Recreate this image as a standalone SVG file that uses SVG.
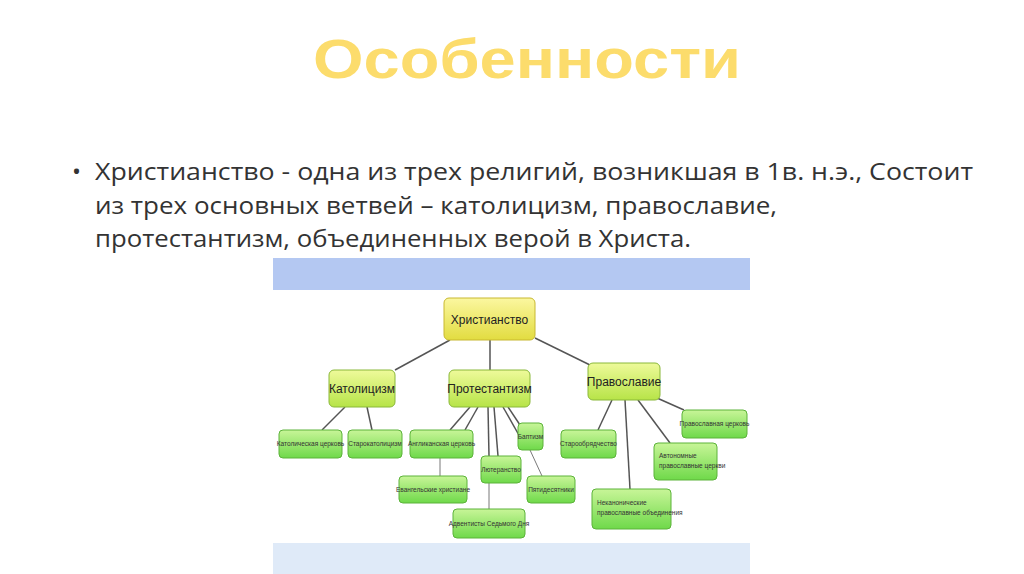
<svg xmlns="http://www.w3.org/2000/svg" width="1024" height="574" viewBox="0 0 1024 574">
<defs>
<linearGradient id="g" x1="0" y1="0" x2="0" y2="1"><stop offset="0" stop-color="#c8f598"/><stop offset="1" stop-color="#6fd94a"/></linearGradient>
<linearGradient id="g2" x1="0" y1="0" x2="0" y2="1"><stop offset="0" stop-color="#eefa9a"/><stop offset="1" stop-color="#b7e448"/></linearGradient>
<linearGradient id="y" x1="0" y1="0" x2="0" y2="1"><stop offset="0" stop-color="#fbf7a0"/><stop offset="1" stop-color="#e2dc40"/></linearGradient>
</defs>
<style>
.n{fill:url(#g);stroke:#5cb33a;stroke-width:1}
.m{fill:url(#g2);stroke:#8ab83a;stroke-width:1}
.s{font-family:"Liberation Sans",Arial,sans-serif;font-size:6.5px;fill:#333;text-anchor:middle}
.b{font-family:"Liberation Sans",Arial,sans-serif;font-size:12px;fill:#222;text-anchor:middle}
.c line{stroke:#555;stroke-width:1.5}
</style>
<rect width="1024" height="574" fill="#fff"/>
<text x="313" y="78" textLength="428" lengthAdjust="spacingAndGlyphs" font-family="Liberation Sans,Arial,sans-serif" font-weight="bold" font-size="56" fill="#fcdc6c">Особенности</text>
<g font-family="Open Sans,Liberation Sans,sans-serif" font-size="24" fill="#333" lengthAdjust="spacingAndGlyphs">
<text x="72" y="180">•</text>
<text x="95" y="180" textLength="878" lengthAdjust="spacingAndGlyphs">Христианство - одна из трех религий, возникшая в 1в. н.э., Состоит</text>
<text x="95" y="214" textLength="682" lengthAdjust="spacingAndGlyphs">из трех основных ветвей – католицизм,  православие,</text>
<text x="95" y="247" textLength="596" lengthAdjust="spacingAndGlyphs">протестантизм, объединенных верой в Христа.</text>
</g>
<rect x="273" y="258" width="477" height="316" fill="#fff"/>
<rect x="273" y="258" width="477" height="32" fill="#b4c8f2"/>
<rect x="273" y="543" width="477" height="31" fill="#dfeaf8"/>
<g class="c">
<line x1="450" y1="340" x2="395" y2="370"/><line x1="490" y1="340" x2="490" y2="370"/><line x1="535" y1="338" x2="590" y2="365"/>
<line x1="345" y1="407" x2="322" y2="430"/><line x1="367" y1="407" x2="372" y2="430"/>
<line x1="470" y1="407" x2="450" y2="430"/><line x1="478" y1="407" x2="465" y2="430"/><line x1="488" y1="407" x2="489" y2="456"/><line x1="494" y1="407" x2="498" y2="456"/><line x1="503" y1="407" x2="520" y2="437"/><line x1="508" y1="407" x2="520" y2="425"/>
<line x1="440" y1="458" x2="440" y2="476" style="stroke-width:0.8"/><line x1="530" y1="450" x2="542" y2="476" style="stroke-width:0.8"/><line x1="489" y1="483" x2="489" y2="509" style="stroke-width:0.8"/>
<line x1="612" y1="400" x2="598" y2="430"/><line x1="625" y1="400" x2="630" y2="489"/><line x1="638" y1="400" x2="670" y2="443"/><line x1="657" y1="398" x2="684" y2="410"/>
</g>
<g id="n0"><rect class="n" x="444" y="298" width="91" height="42" rx="5" style="fill:url(#y);stroke:#c8b830"/><text class="b" x="489.5" y="324" font-size="14">Христианство</text></g>
<g id="n1"><rect class="m" x="329" y="370" width="66" height="37" rx="5"/><text class="b" x="362" y="393">Католицизм</text></g>
<g id="n2"><rect class="m" x="449" y="370" width="81" height="37" rx="5"/><text class="b" x="489.5" y="393">Протестантизм</text></g>
<g id="n3"><rect class="m" x="588" y="363" width="72" height="37" rx="5"/><text class="b" x="624" y="386">Православие</text></g>
<g id="n4"><rect class="n" x="279" y="430" width="63" height="28" rx="4"/><text class="s" x="310.5" y="446">Католическая церковь</text></g>
<g id="n5"><rect class="n" x="348" y="430" width="54" height="28" rx="4"/><text class="s" x="375" y="446">Старокатолицизм</text></g>
<g id="n6"><rect class="n" x="410" y="430" width="63" height="28" rx="4"/><text class="s" x="441.5" y="446">Англиканская церковь</text></g>
<g id="n7"><rect class="n" x="518" y="423" width="25" height="27" rx="4"/><text class="s" x="530.5" y="439">Баптизм</text></g>
<g id="n8"><rect class="n" x="481" y="456" width="40" height="27" rx="4"/><text class="s" x="501" y="472">Лютеранство</text></g>
<g id="n9"><rect class="n" x="399" y="476" width="68" height="27" rx="4"/><text class="s" x="433" y="492">Евангельские христиане</text></g>
<g id="n10"><rect class="n" x="527" y="476" width="48" height="27" rx="4"/><text class="s" x="551" y="492">Пятидесятники</text></g>
<g id="n11"><rect class="n" x="453" y="509" width="72" height="29" rx="4"/><text class="s" x="489" y="526">Адвентисты Седьмого Дня</text></g>
<g id="n12"><rect class="n" x="561" y="430" width="55" height="28" rx="4"/><text class="s" x="588.5" y="446">Старообрядчество</text></g>
<g id="n13"><rect class="n" x="592" y="489" width="79" height="40" rx="4"/><text class="s" x="597" y="505" style="text-anchor:start">Неканонические</text><text class="s" x="597" y="515" style="text-anchor:start">православные объединения</text></g>
<g id="n14"><rect class="n" x="654" y="443" width="63" height="37" rx="4"/><text class="s" x="659" y="458" style="text-anchor:start">Автономные</text><text class="s" x="659" y="468" style="text-anchor:start">православные церкви</text></g>
<g id="n15"><rect class="n" x="682" y="410" width="65" height="28" rx="4"/><text class="s" x="714.5" y="426">Православная церковь</text></g>
</svg>
